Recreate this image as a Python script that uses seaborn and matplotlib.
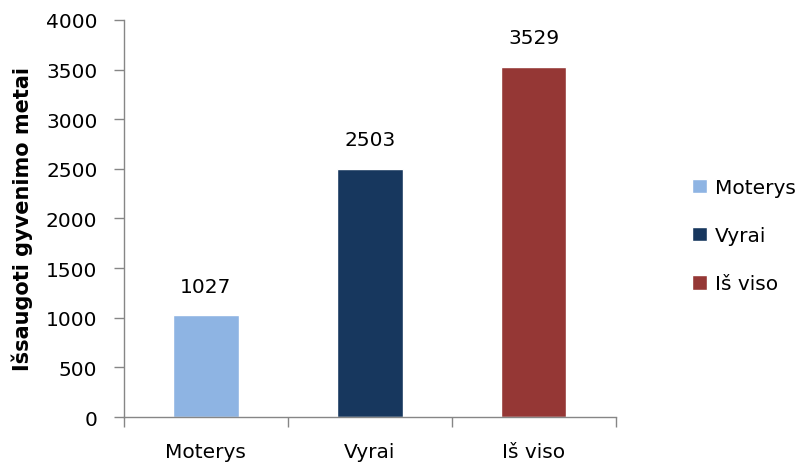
import pandas as pd
import seaborn as sns
import matplotlib.pyplot as plt

# data
categories = ['Moterys', 'Vyrai', 'Iš viso']
values = [1027, 2503, 3529]
colors = ['#8EB4E3', '#17375E', '#953735']
yticks = [0, 500, 1000, 1500, 2000, 2500, 3000, 3500, 4000]

df = pd.DataFrame({'grupe': categories, 'metai': values})

sns.set_style('white')
plt.rcParams['font.family'] = ['DejaVu Sans']
plt.rcParams['text.color'] = 'black'
plt.rcParams['xtick.color'] = 'black'
plt.rcParams['ytick.color'] = 'black'
plt.rcParams['axes.labelcolor'] = 'black'

fig = plt.figure(figsize=(8.09, 4.64), dpi=100)
ax = fig.add_axes([0.153, 0.099, 0.608, 0.856])

sns.barplot(data=df, x='grupe', y='metai', hue='grupe', palette=colors,
            dodge=False, width=0.4, saturation=1, legend=True, ax=ax)

fs = 14.5
for cont in ax.containers:
    ax.bar_label(cont, fmt='%d', padding=14, fontsize=fs, color='black')

ax.set_ylim(0, 4000)
ax.set_xlim(-0.5, 2.5)
ax.set_yticks(yticks)
ax.set_yticklabels([str(t) for t in yticks], fontsize=fs)
ax.set_xticks(range(len(categories)))
ax.set_xticklabels(categories, fontsize=fs)
ax.set_xticks([-0.5, 0.5, 1.5, 2.5], minor=True)
ax.tick_params(axis='x', which='major', length=0, pad=18, bottom=True)
ax.tick_params(axis='x', which='minor', length=7, color='#868686', width=1, bottom=True)
ax.tick_params(axis='y', length=7, color='#868686', width=1, pad=12, left=True)
ax.set_xlabel('')
ax.set_ylabel('Išsaugoti gyvenimo metai', fontsize=15, fontweight='bold', labelpad=9)

for side in ['top', 'right']:
    ax.spines[side].set_visible(False)
for side in ['left', 'bottom']:
    ax.spines[side].set_color('#868686')
    ax.spines[side].set_linewidth(1)

leg = ax.legend(loc='center left', bbox_to_anchor=(0.855, 0.49), bbox_transform=fig.transFigure,
                frameon=False, fontsize=fs, handlelength=0.75, handleheight=0.75,
                handletextpad=0.4, labelspacing=1.45, borderpad=0, borderaxespad=0)

fig.savefig('out.png', dpi=100)
